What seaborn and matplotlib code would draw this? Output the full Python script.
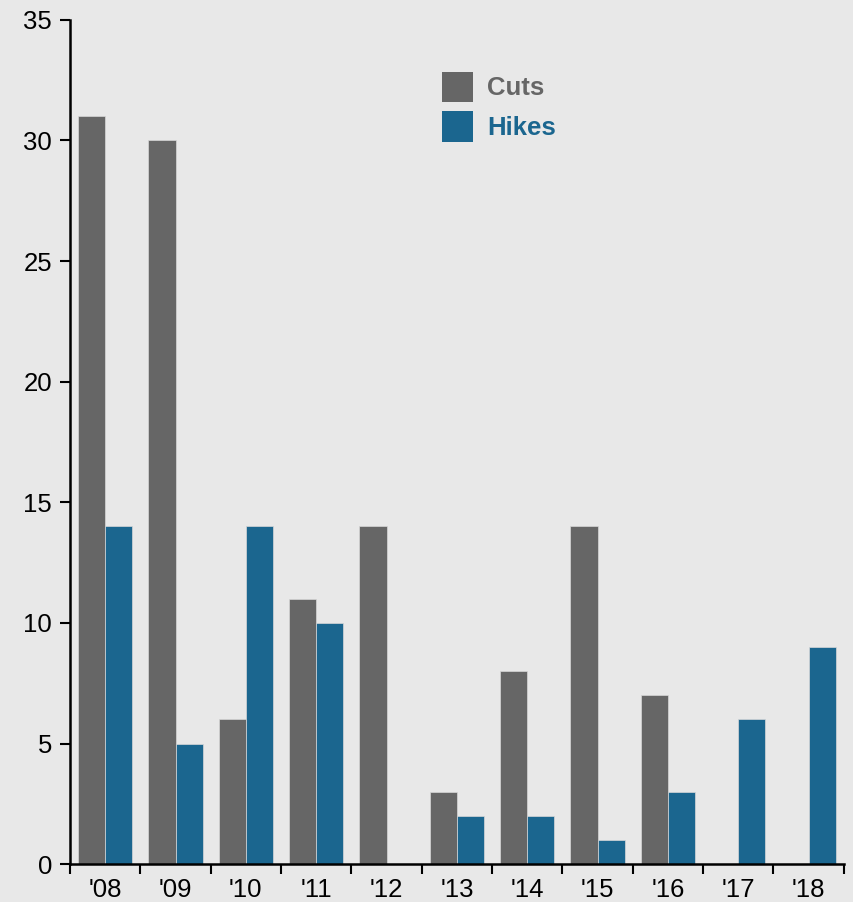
import matplotlib
matplotlib.use("Agg")
import matplotlib.pyplot as plt
import seaborn as sns
import pandas as pd
from matplotlib.patches import Patch

years = ["'08", "'09", "'10", "'11", "'12", "'13", "'14", "'15", "'16", "'17", "'18"]
cuts = [31, 30, 6, 11, 14, 3, 8, 14, 7, 0, 0]
hikes = [14, 5, 14, 10, 0, 2, 2, 1, 3, 6, 9]
series = ["Cuts", "Hikes"]
colors = {"Cuts": "#666666", "Hikes": "#1b668f"}
bg = "#e8e8e8"

df = pd.DataFrame({
    "year": years * 2,
    "value": cuts + hikes,
    "series": ["Cuts"] * len(years) + ["Hikes"] * len(years),
})

sns.set_style("white")
plt.rcParams["font.family"] = ["Liberation Sans", "DejaVu Sans"]
plt.rcParams["text.color"] = "black"
plt.rcParams["xtick.color"] = "black"
plt.rcParams["ytick.color"] = "black"

fig = plt.figure(figsize=(8.54, 9.02), dpi=100, facecolor=bg)
ax = fig.add_axes([0.082, 0.042, 0.906, 0.936])
ax.set_facecolor(bg)

sns.barplot(data=df, x="year", y="value", hue="series", order=years,
            hue_order=series, palette=colors, width=0.77, gap=0, saturation=1,
            edgecolor="#d8d8d8", linewidth=0.5, ax=ax, legend=False)

ax.set_xlim(-0.5, len(years) - 0.5)
ax.set_ylim(0, 35)
ax.set_yticks(range(0, 36, 5))
ax.set_xticks([i - 0.5 for i in range(len(years) + 1)])
ax.set_xticklabels([])
ax.set_xticks(range(len(years)), minor=True)
ax.set_xticklabels(years, minor=True)
ax.tick_params(axis="x", which="minor", bottom=True, length=0, pad=10, labelsize=18.5, labelcolor="black")
ax.tick_params(axis="x", which="major", bottom=True, length=7, width=1.5, direction="out", color="black")
ax.tick_params(axis="y", left=True, length=7, width=1.5, direction="out", color="black",
               labelsize=18.5, pad=6, labelcolor="black")
ax.set_xlabel("")
ax.set_ylabel("")

for s in ["top", "right"]:
    ax.spines[s].set_visible(False)
for s in ["left", "bottom"]:
    ax.spines[s].set_color("black")
    ax.spines[s].set_linewidth(1.8)

handles = [Patch(facecolor=colors[s], edgecolor="none", label=s) for s in series]
leg = ax.legend(handles=handles, loc="upper left", bbox_to_anchor=(0.451, 0.966),
                frameon=False, handlelength=1.2, handleheight=1.45,
                handletextpad=0.55, labelspacing=0.36,
                prop={"size": 18.5, "weight": "bold"})
for t, s in zip(leg.get_texts(), series):
    t.set_color(colors[s])

fig.savefig("out.png", dpi=100, facecolor=bg)
